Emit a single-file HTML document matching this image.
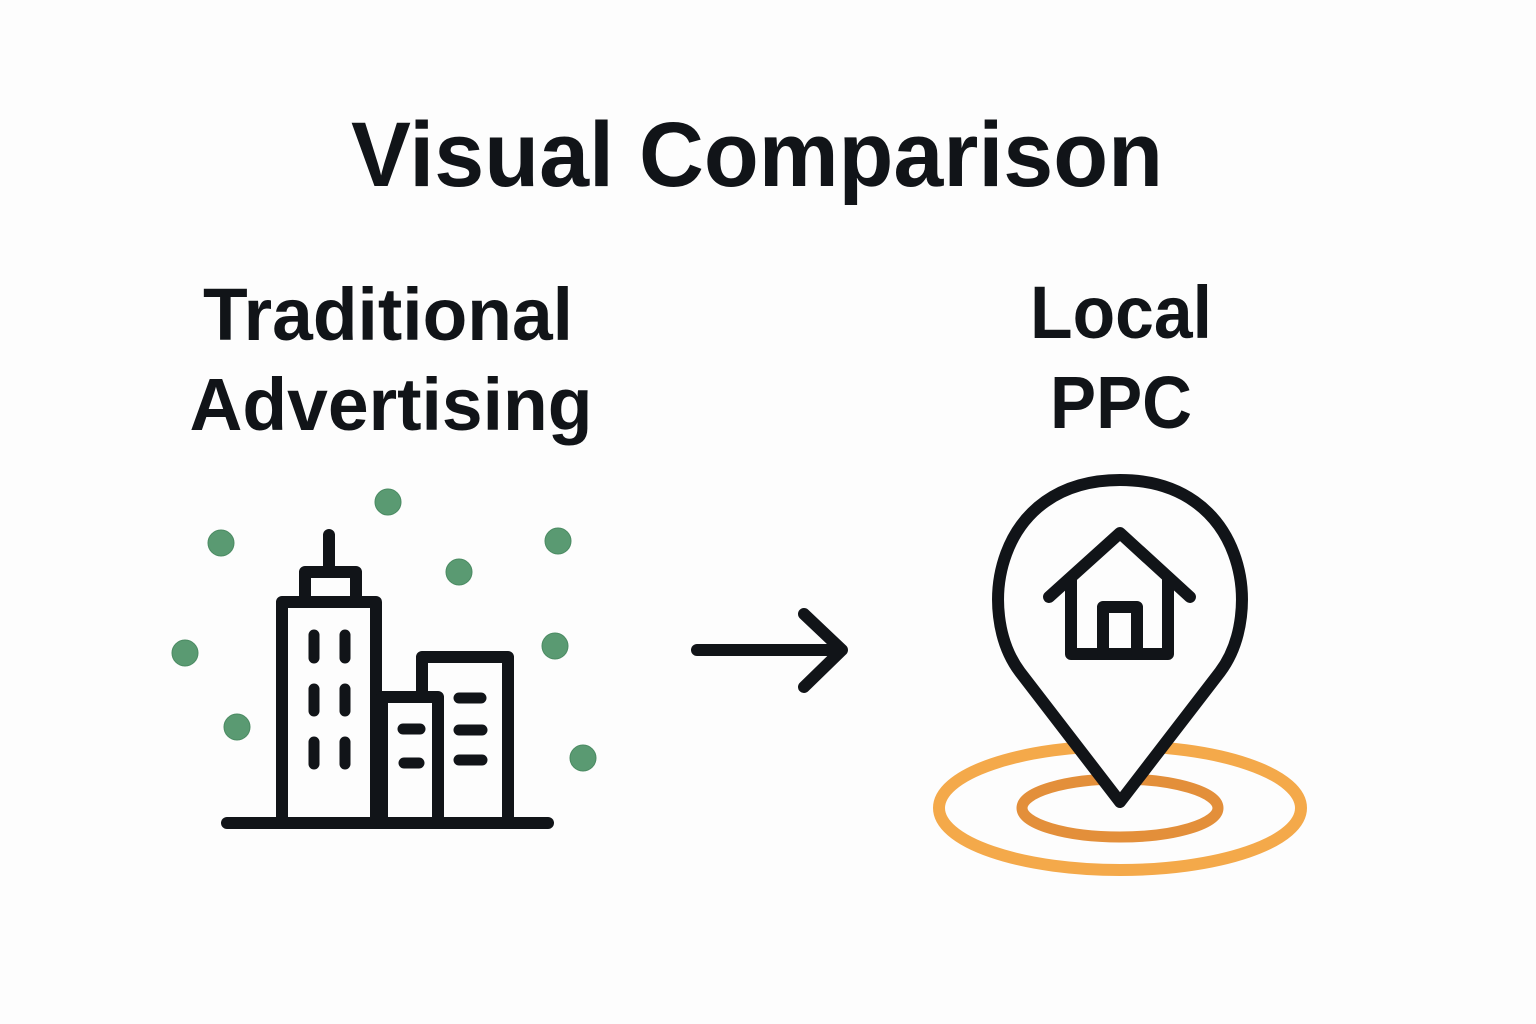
<!DOCTYPE html>
<html><head><meta charset="utf-8"><style>
html,body{margin:0;padding:0;background:#fdfdfd;}
svg{display:block}
text{font-family:"Liberation Sans",sans-serif;font-weight:bold;fill:#111418}
</style></head><body>
<svg width="1536" height="1024" viewBox="0 0 1536 1024" xmlns="http://www.w3.org/2000/svg">
<rect width="1536" height="1024" fill="#fdfdfd"/>
<text x="757" y="186" font-size="92" text-anchor="middle" textLength="812" lengthAdjust="spacingAndGlyphs">Visual Comparison</text>
<text x="388" y="340" font-size="74" text-anchor="middle" textLength="370" lengthAdjust="spacingAndGlyphs">Traditional</text>
<text x="391" y="430" font-size="74" text-anchor="middle" textLength="403" lengthAdjust="spacingAndGlyphs">Advertising</text>
<text x="1121" y="338" font-size="74" text-anchor="middle" textLength="182" lengthAdjust="spacingAndGlyphs">Local</text>
<text x="1121" y="428" font-size="74" text-anchor="middle" textLength="142" lengthAdjust="spacingAndGlyphs">PPC</text>

<g fill="#5a9a72" stroke="#4a8a62" stroke-width="1">
<circle cx="388" cy="502" r="13"/><circle cx="221" cy="543" r="13"/><circle cx="558" cy="541" r="13"/>
<circle cx="459" cy="572" r="13"/><circle cx="185" cy="653" r="13"/><circle cx="555" cy="646" r="13"/>
<circle cx="237" cy="727" r="13"/><circle cx="583" cy="758" r="13"/>
</g>
<g stroke="#111418" stroke-width="12" fill="none" stroke-linecap="round" stroke-linejoin="round">
<line x1="227" y1="823" x2="548" y2="823"/>
<path d="M282 823 V602 H376 V823"/>
<path d="M305 602 V572 H356 V602"/>
<line x1="329" y1="535" x2="329" y2="572"/>
<path d="M382 823 V697 H438 V823"/>
<path d="M422 697 V657 H508 V823"/>
<g stroke-width="11">
<line x1="314" y1="635" x2="314" y2="658"/><line x1="345" y1="635" x2="345" y2="658"/>
<line x1="314" y1="689" x2="314" y2="711"/><line x1="345" y1="689" x2="345" y2="711"/>
<line x1="314" y1="742" x2="314" y2="764"/><line x1="345" y1="742" x2="345" y2="764"/>
<line x1="403" y1="729" x2="420" y2="729"/><line x1="404" y1="763" x2="419" y2="763"/>
<line x1="459" y1="698" x2="481" y2="698"/><line x1="459" y1="730" x2="482" y2="730"/><line x1="459" y1="760" x2="482" y2="760"/>
</g>
<line x1="697" y1="650" x2="841" y2="650"/>
<path d="M804 614 L842 650 L804 687"/>
</g>

<ellipse cx="1120" cy="808" rx="181" ry="62" fill="none" stroke="#f4a94a" stroke-width="12"/>
<ellipse cx="1120" cy="808" rx="98" ry="29" fill="none" stroke="#e38f3a" stroke-width="11"/>
<g stroke="#111418" stroke-width="12" stroke-linecap="round" stroke-linejoin="round">
<path d="M1120 802 L1020 672 C 975 612 995 480 1120 480 C 1245 480 1265 612 1220 672 Z" fill="#fdfdfd"/>
<path d="M1049 597 L1120 533 L1190 597" fill="none"/>
<path d="M1071 578 V654 H1168 V578" fill="none"/>
<path d="M1103 654 V607 H1137 V654" fill="none"/>
</g>
</svg>
</body></html>
